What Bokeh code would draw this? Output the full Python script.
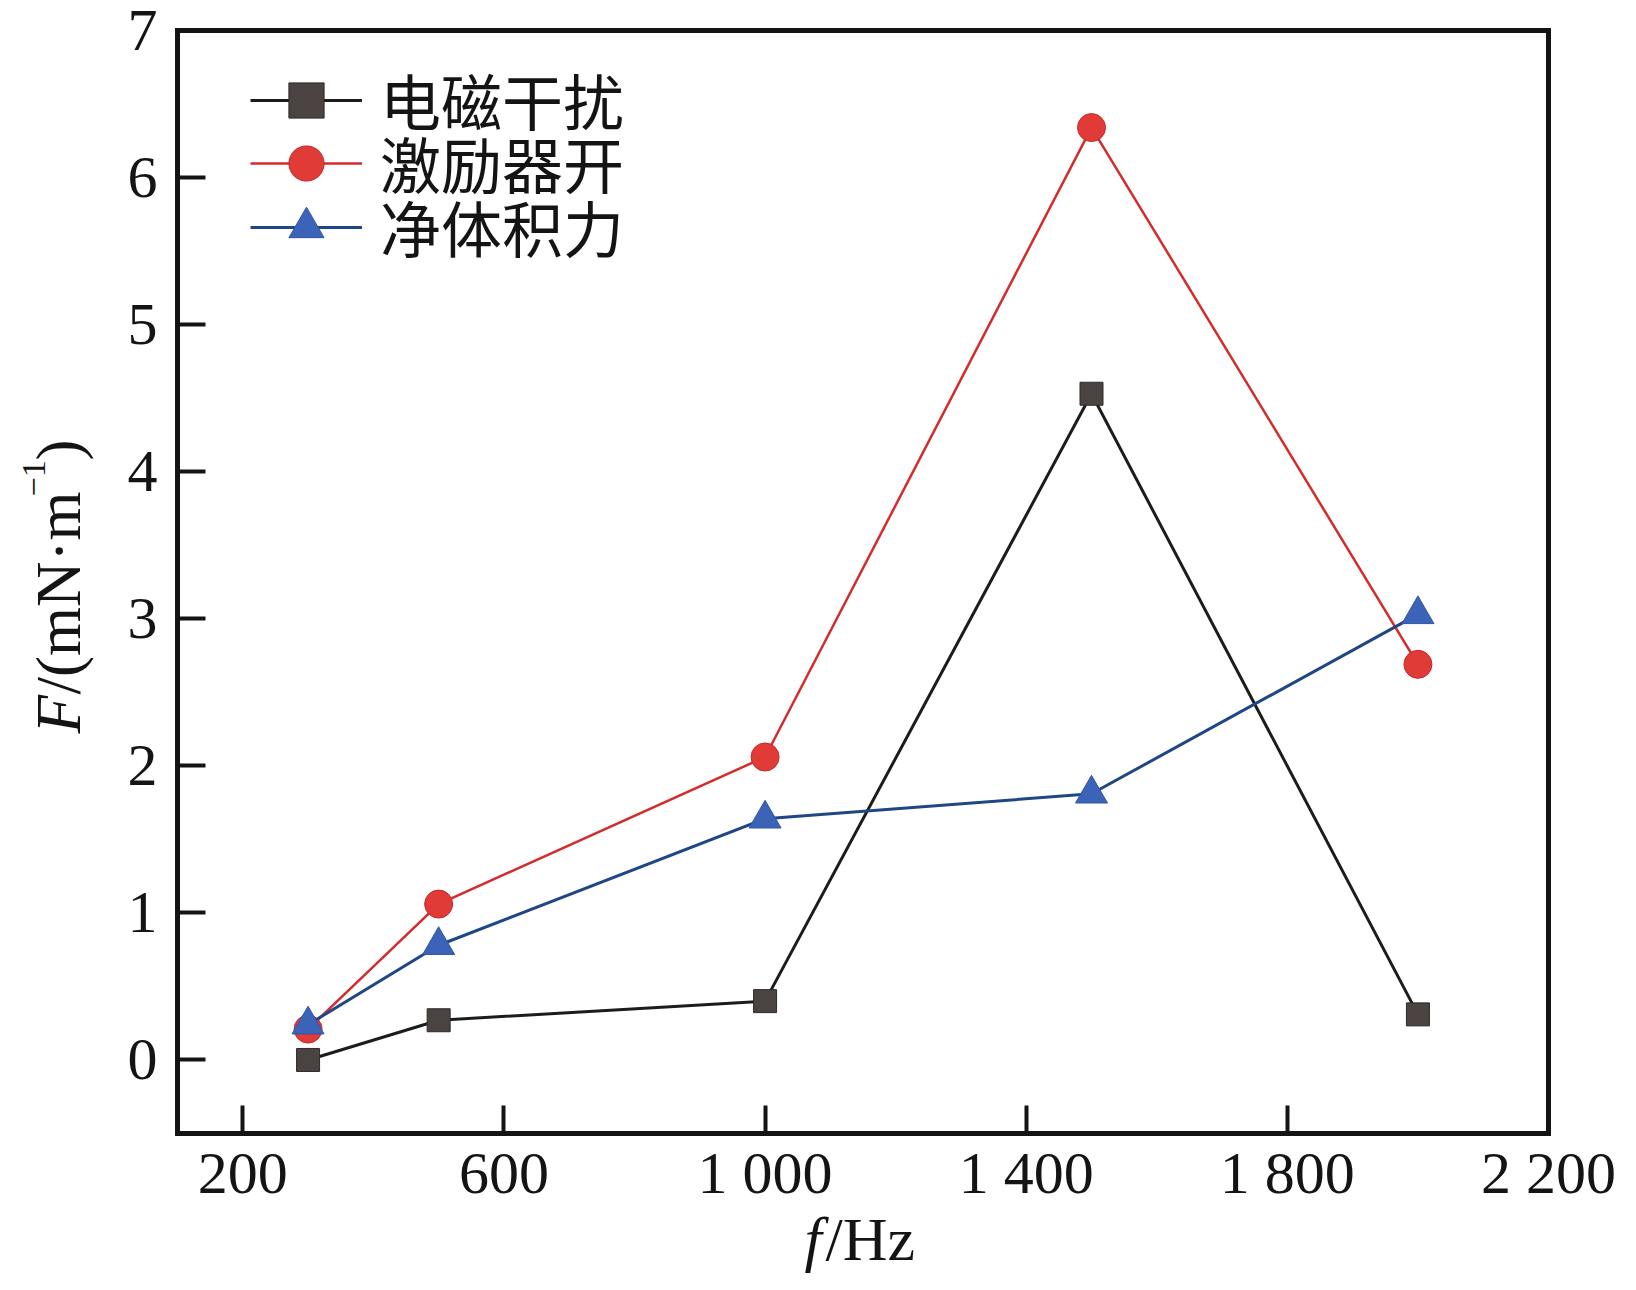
from bokeh.plotting import figure
from bokeh.models import Range1d, FixedTicker, Label, Legend, LegendItem, LinearAxis
from bokeh.embed import file_html
from bokeh.resources import INLINE

# ---- data ----
freq = [300, 500, 1000, 1500, 2000]
em_interference = [0.0, 0.27, 0.40, 4.53, 0.31]
exciter_on = [0.21, 1.06, 2.06, 6.34, 2.69]
net_body_force = [0.24, 0.78, 1.64, 1.81, 3.03]
series_names = ["电磁干扰", "激励器开", "净体积力"]
x_ticks = [200, 600, 1000, 1400, 1800, 2200]
x_tick_labels = ["200", "600", "1 000", "1 400", "1 800", "2 200"]
y_ticks = [0, 1, 2, 3, 4, 5, 6, 7]
y_tick_labels = ["0", "1", "2", "3", "4", "5", "6", "7"]
X0, X1 = 100, 2200     # axis box limits (data)
Y0, Y1 = -0.5, 7

# ---- geometry (canvas pixels) ----
W, H = 1628, 1282
BL, BT, BW, BH = 177, 30, 1371, 1103   # axis box on the canvas
KX = (X1 - X0) / BW
KY = (Y1 - Y0) / BH

def dx(px):
    return X0 + (px - BL) * KX

def dy(py):
    return Y1 - (py - BT) * KY

SERIF = "Liberation Serif"
CJK = "Noto Sans CJK SC"
INK = "#141414"

p = figure(width=W, height=H, frame_width=W, frame_height=H, min_border=0,
           x_range=Range1d(dx(0), dx(W)), y_range=Range1d(dy(H), dy(0)),
           output_backend="svg", toolbar_location=None)
p.xgrid.visible = False
p.ygrid.visible = False
p.background_fill_color = "white"
p.border_fill_color = "white"
p.outline_line_color = None

xa = p.xaxis[0]
ya = p.yaxis[0]
xa.fixed_location = Y0
xa.bounds = (X0, X1)
xa.ticker = FixedTicker(ticks=x_ticks)
xa.major_label_overrides = {t: s for t, s in zip(x_ticks, x_tick_labels)}
ya.fixed_location = X0
ya.bounds = (Y0, Y1)
ya.ticker = FixedTicker(ticks=y_ticks)
ya.major_label_overrides = {t: s for t, s in zip(y_ticks, y_tick_labels)}
for ax in (xa, ya):
    ax.axis_line_width = 5
    ax.axis_line_color = INK
    ax.axis_line_cap = "square"
    ax.major_tick_in = 28
    ax.major_tick_out = 0
    ax.major_tick_line_width = 4
    ax.major_tick_line_color = INK
    ax.minor_tick_line_color = None
    ax.major_label_text_font = SERIF
    ax.major_label_text_font_size = "60px"
    ax.major_label_text_color = INK
xa.major_label_standoff = 6
ya.major_label_standoff = 20

top_ax = LinearAxis(fixed_location=Y1, bounds=(X0, X1), ticker=FixedTicker(ticks=[]),
                    axis_line_width=5, axis_line_color=INK, axis_line_cap="square",
                    major_tick_line_color=None, minor_tick_line_color=None,
                    major_label_text_font_size="0px")
right_ax = LinearAxis(fixed_location=X1, bounds=(Y0, Y1), ticker=FixedTicker(ticks=[]),
                      axis_line_width=5, axis_line_color=INK, axis_line_cap="square",
                      major_tick_line_color=None, minor_tick_line_color=None,
                      major_label_text_font_size="0px")
p.add_layout(top_ax, "above")
p.add_layout(right_ax, "right")

# ---- series ----
l1 = p.line(freq, em_interference, line_color="#1c1c1c", line_width=3)
s1 = p.scatter(freq, em_interference, marker="square", size=23,
               fill_color="#4a4341", line_color="#2e2a29", line_width=1)
l2 = p.line(freq, exciter_on, line_color="#d42b2b", line_width=2.5)
s2 = p.scatter(freq, exciter_on, marker="circle", size=28,
               fill_color="#e03b37", line_color="#c42a2a", line_width=1)
l3 = p.line(freq, net_body_force, line_color="#1f4685", line_width=3)
s3 = p.scatter(freq, net_body_force, marker="triangle", size=32,
               fill_color="#3b64b8", line_color="#2f57a8", line_width=1)

# ---- legend: one legend per row to control row spacing ----
ITEM_H = 88
row_centers = [100, 163, 227]
for name, rends, yc in zip(series_names, [[l1, s1], [l2, s2], [l3, s3]], row_centers):
    lg = Legend(items=[LegendItem(label=name, renderers=rends)],
                location=(250, H - yc - ITEM_H / 2), orientation="vertical",
                glyph_width=112, glyph_height=ITEM_H, label_height=ITEM_H,
                label_standoff=18, spacing=0, padding=0, margin=0,
                label_text_font=CJK, label_text_font_size="61px",
                label_text_color=INK, label_text_baseline="middle",
                border_line_alpha=0, background_fill_alpha=0)
    p.add_layout(lg, "center")

# ---- axis titles ----
xb = 1238
p.add_layout(Label(x=dx(804), y=dy(xb), text="f", text_font=SERIF,
                   text_font_style="italic", text_font_size="62px",
                   text_color=INK, text_align="left", text_baseline="alphabetic"))
p.add_layout(Label(x=dx(825), y=dy(xb), text="/Hz", text_font=SERIF,
                   text_font_size="62px", text_color=INK,
                   text_align="left", text_baseline="alphabetic"))

ang = 1.5707963267948966
yb = 58
parts = [("F", "italic", "63px", 733, 0),
         ("/(mN·m", "normal", "63px", 694, 0),
         ("−1", "normal", "34px", 496, 25),
         (")", "normal", "63px", 460, 0)]
for txt, style, size, py, raise_px in parts:
    p.add_layout(Label(x=dx(yb - raise_px), y=dy(py), text=txt, angle=ang,
                       text_font=SERIF, text_font_style=style,
                       text_font_size=size, text_color=INK,
                       text_align="left", text_baseline="alphabetic"))

open("out.html", "w").write(file_html(p, INLINE))
